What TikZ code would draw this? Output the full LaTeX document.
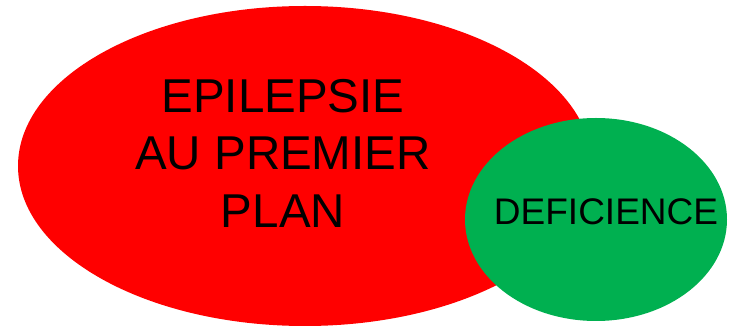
\documentclass[tikz,border=0pt]{standalone}
\usepackage{fontspec}
\setmainfont{Liberation Sans}
\usetikzlibrary{shapes.geometric}
\definecolor{vert}{HTML}{00B050}
\begin{document}
\begin{tikzpicture}[x=1pt, y=-1pt, inner sep=0pt, bulle/.style={ellipse, draw=none}]
		\useasboundingbox (0,0) rectangle (734,328);
		\node[bulle, fill=red, minimum width=574pt, minimum height=320pt] (epi) at (305,166) {};
		\node[bulle, fill=vert, minimum width=262pt, minimum height=203pt] (def) at (596,219.5) {};
		\node[align=center, font=\fontsize{47.5}{57.5}\selectfont] (txtepi) at (283,153) {EPILEPSIE\\AU PREMIER\\PLAN};
		\node[font=\fontsize{37}{40}\selectfont] (txtdef) at (606,212) {DEFICIENCE};
	\end{tikzpicture}
\end{document}
